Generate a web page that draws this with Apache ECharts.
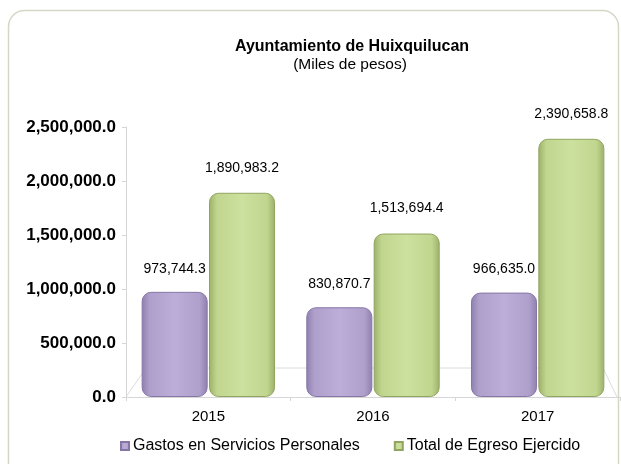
<!DOCTYPE html>
<html>
<head>
<meta charset="utf-8">
<script src="https://cdn.jsdelivr.net/npm/echarts@6/dist/echarts.min.js"></script>
<style>
    html, body { margin: 0; padding: 0; background: #fff; }
    #main { width: 621px; height: 464px; }
</style>
</head>
<body>
<div id="main"></div>
<script>
var years = ['2015', '2016', '2017'];
var gastosPersonales = [973744.3, 830870.7, 966635.0];
var totalEgreso = [1890983.2, 1513694.4, 2390658.8];
var seriesNames = ['Gastos en Servicios Personales', 'Total de Egreso Ejercido'];

function fmt(v) {
    return v.toLocaleString('en-US', { minimumFractionDigits: 1, maximumFractionDigits: 1 });
}

// gradiente horizontal para simular el volumen de las barras
function barGradient(edge, mid, light) {
    return new echarts.graphic.LinearGradient(0, 0, 1, 0, [
        { offset: 0, color: edge },
        { offset: 0.12, color: mid },
        { offset: 0.5, color: light },
        { offset: 0.88, color: mid },
        { offset: 1, color: edge }
    ]);
}

var chart = echarts.init(document.getElementById('main'));
var option = {
    textStyle: { fontFamily: 'Liberation Sans, Arial, sans-serif' },
    graphic: [
        {
            type: 'rect',
            z: 0,
            shape: { x: 8.5, y: 10.5, width: 610, height: 470, r: 16 },
            style: { fill: 'none', stroke: '#d6d6c6', lineWidth: 1.5 },
            silent: true
        },
        {
            // piso en perspectiva
            type: 'polyline',
            z: 0,
            shape: { points: [[126, 397], [146, 368], [603, 368], [617, 397]] },
            style: { fill: 'none', stroke: '#dcdcdc', lineWidth: 1 },
            silent: true
        }
    ],
    title: [
        {
            text: 'Ayuntamiento de Huixquilucan',
            left: 347,
            top: 34,
            textAlign: 'center',
            textStyle: { fontSize: 16, fontWeight: 'bold', color: '#000' }
        },
        {
            text: '(Miles de pesos)',
            left: 345,
            top: 52,
            textAlign: 'center',
            textStyle: { fontSize: 15.5, fontWeight: 'normal', color: '#000' }
        }
    ],
    legend: {
        data: seriesNames,
        left: 115,
        bottom: 5,
        itemWidth: 8,
        itemHeight: 8,
        itemGap: 34,
        icon: 'rect',
        textStyle: { fontSize: 16, color: '#000', padding: [0, 0, 0, -1] }
    },
    grid: {
        left: 126,
        right: 1,
        top: 127,
        bottom: 67
    },
    xAxis: {
        type: 'category',
        data: years,
        axisLine: { lineStyle: { color: '#d6d6d6' } },
        axisTick: { show: true, length: 4, lineStyle: { color: '#d6d6d6' } },
        axisLabel: { fontSize: 15, color: '#000', margin: 12 }
    },
    yAxis: {
        type: 'value',
        min: 0,
        max: 2500000,
        interval: 500000,
        axisLine: { show: true, lineStyle: { color: '#d6d6d6' } },
        axisTick: { show: true, length: 4, lineStyle: { color: '#d6d6d6' } },
        splitLine: { show: false },
        axisLabel: {
            fontSize: 17,
            fontWeight: 'bold',
            color: '#000',
            margin: 10,
            formatter: function (v) { return fmt(v); }
        }
    },
    series: [
        {
            name: seriesNames[0],
            type: 'bar',
            data: gastosPersonales,
            barCategoryGap: '19%',
            barGap: '2%',
            itemStyle: {
                color: barGradient('#8e7faf', '#ae9fcb', '#bcaed8'),
                borderColor: '#8676a6',
                borderWidth: 1,
                borderRadius: 9
            },
            label: {
                show: true,
                position: 'top',
                distance: 16,
                fontSize: 14,
                color: '#000',
                formatter: function (p) { return fmt(p.value); }
            }
        },
        {
            name: seriesNames[1],
            type: 'bar',
            data: totalEgreso,
            itemStyle: {
                color: barGradient('#9cb06a', '#c0d58e', '#cde19f'),
                borderColor: '#91a560',
                borderWidth: 1,
                borderRadius: 9
            },
            label: {
                show: true,
                position: 'top',
                distance: 18,
                fontSize: 14,
                color: '#000',
                formatter: function (p) { return fmt(p.value); }
            }
        }
    ]
};
chart.setOption(option);
</script>
</body>
</html>
